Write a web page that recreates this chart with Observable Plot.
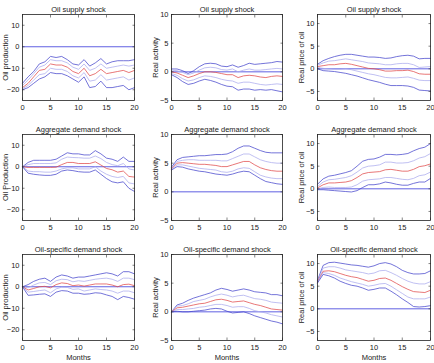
<!DOCTYPE html>
<html>
<head>
<meta charset="utf-8">
<script src="https://cdn.jsdelivr.net/npm/d3@7"></script>
<script src="https://cdn.jsdelivr.net/npm/@observablehq/plot@0.6"></script>
<style>
  html, body { margin: 0; padding: 0; background: #fff; }
  #wrap { position: relative; width: 434px; height: 363px; font-family: "Liberation Sans", Arial, sans-serif; }
  #wrap svg { position: absolute; overflow: visible; }
</style>
</head>
<body>
<div id="wrap"></div>
<script>
const months = [0,1,2,3,4,5,6,7,8,9,10,11,12,13,14,15,16,17,18,19,20];
const shocks = ["Oil supply shock", "Aggregate demand shock", "Oil-specific demand shock"];
const yLabels = [
  ["Oil production", "Real activity", "Real price of oil"],
  ["Oil Production", "Real activity", "Real price of oil"],
  ["Oil production", "Real activity", "Real price of oil"]
];
const yDomains = [[-25, 15], [-5, 10], [-7, 12]];
const yTicks = [[-20, -10, 0, 10], [-5, 0, 5, 10], [-5, 0, 5, 10]];
const xTicks = [0, 5, 10, 15, 20];

// each panel: [upper outer, upper inner, median, lower inner, lower outer]
const supplyProd = [
  [-17,-14,-11.5,-8,-7,-4.5,-5,-4.5,-6,-8,-8.5,-6,-9,-7.5,-5.5,-8,-7,-6.5,-6.5,-6.5,-6],
  [-18,-15.5,-12.5,-9.5,-8.5,-6,-6.5,-6.5,-7.5,-9.5,-10.5,-8,-11,-10,-8,-10,-9.5,-9,-8.5,-9,-8.5],
  [-19,-17,-14,-11,-10.5,-8,-8.5,-8.5,-9.5,-11.5,-12.5,-10,-13.5,-12.5,-10.5,-12.5,-12,-11.5,-11,-12,-11],
  [-19.5,-18,-15.5,-13,-12.5,-10,-10.5,-10.5,-11.5,-13.5,-14.5,-12,-16,-15.5,-13,-15.5,-15,-14.5,-14,-15.5,-14.5],
  [-20,-19,-17,-15,-14,-12,-12.5,-12.5,-13.5,-15,-16.5,-14,-19,-18.5,-16,-19,-19,-18.5,-18,-20,-19]
];
const supplyAct = [
  [0.5,0.5,0.2,-0.3,0.2,0.9,1.4,1.5,1.4,1.0,0.9,1.2,0.8,1.1,1.5,1.3,1.4,1.5,1.6,1.8,1.7],
  [0.3,0.2,-0.1,-0.5,-0.2,0.3,0.7,0.8,0.7,0.4,0.3,0.5,0,0.3,0.5,0.3,0.3,0.4,0.5,0.6,0.5],
  [0,-0.2,-0.6,-1,-0.7,-0.3,0,0,-0.1,-0.3,-0.5,-0.5,-1,-0.7,-0.6,-0.7,-0.9,-1,-0.8,-0.7,-0.8],
  [-0.3,-0.6,-1.2,-1.6,-1.4,-1.0,-0.7,-0.8,-1,-1.3,-1.5,-1.6,-2,-1.8,-1.8,-2,-2.2,-2.3,-2.2,-2.1,-2.2],
  [-0.5,-1,-1.7,-2.2,-2,-1.6,-1.3,-1.5,-1.8,-2.2,-2.5,-2.6,-3.2,-3,-3,-3.2,-3.1,-3.2,-3.1,-3.3,-3.5]
];
const supplyPrice = [
  [1,1.8,2.3,2.7,3.0,3.2,3.2,3.0,2.8,2.6,2.6,2.5,2.3,2.4,2.7,2.9,3.0,2.8,2.2,2.3,2.3],
  [0.8,1.3,1.7,1.8,2.0,2.2,2.0,1.8,1.6,1.3,1.2,1.1,0.9,0.9,1.1,1.2,1.2,0.9,0.3,0.4,0.5],
  [0.5,0.7,0.9,0.9,1.1,1.2,1.0,0.7,0.4,0.1,0,-0.2,-0.5,-0.5,-0.4,-0.4,-0.3,-0.6,-1.1,-1.2,-1.2],
  [0.3,0.1,0,-0.1,-0.1,0,-0.2,-0.5,-0.8,-1.1,-1.3,-1.6,-1.9,-2,-2,-1.9,-1.8,-2.1,-2.5,-2.6,-2.6],
  [0,-0.4,-0.5,-0.6,-0.8,-1,-1.3,-1.6,-2,-2.4,-2.7,-3,-3.4,-3.7,-3.7,-3.7,-3.8,-4.1,-4.7,-4.8,-4.9]
];
const aggProd = [
  [0,2,3,3,3,3,3.5,5,6.5,6,6,5.5,5.5,7.5,6,4,3.5,2.5,4.5,2.5,2.5],
  [0,1,1.5,1.5,1.5,1.5,1.8,3.5,4.5,4.3,4.2,4,4,5,3.8,2,1,0.5,1.5,-1,-1.5],
  [0,-0.3,-0.3,-0.3,-0.3,-0.3,-0.2,1,2,2,1.5,1.5,1.5,2.3,0.8,-0.8,-1.4,-2.5,-2,-4.5,-4.8],
  [0,-2,-2.3,-2.3,-2.5,-2.5,-2,-1,-0.5,-0.5,-1,-1,-1,0,-2,-3.5,-4.5,-5,-4.5,-7.5,-8],
  [0,-3,-3.5,-3.8,-4,-4,-3.5,-2,-1.5,-1.8,-2.3,-2.5,-2.5,-1.5,-3.5,-5.5,-7,-7.5,-7,-10,-11.5]
];
const aggAct = [
  [4.3,5.6,6.0,6.1,6.2,6.3,6.3,6.4,6.5,6.5,6.6,7.0,7.6,8.0,8.0,7.6,7.2,6.9,6.8,6.8,6.8],
  [4.1,5.3,5.5,5.6,5.6,5.5,5.5,5.5,5.5,5.4,5.4,5.8,6.2,6.6,6.6,6.1,5.6,5.3,5.1,5.0,5.0],
  [4,5,5.1,5,4.9,4.8,4.8,4.7,4.6,4.4,4.4,4.7,5,5.3,5.3,4.7,4.2,3.9,3.7,3.6,3.6],
  [3.9,4.7,4.7,4.5,4.3,4.1,4.0,3.9,3.8,3.5,3.4,3.6,4.0,4.2,4.1,3.5,2.9,2.6,2.4,2.3,2.3],
  [3.8,4.4,4.3,4.0,3.8,3.6,3.5,3.3,3.1,3.0,2.9,3.1,3.4,3.6,3.5,2.9,2.3,1.8,1.6,1.4,1.3]
];
const aggPrice = [
  [1.0,2.2,2.8,3.0,3.3,3.6,4.0,5.0,6.1,6.5,6.6,7.0,7.6,7.6,7.5,7.6,7.8,8.4,8.9,9.2,10.0],
  [0.5,1.5,2.0,2.1,2.3,2.5,2.9,3.7,4.6,5.0,5.1,5.3,5.9,5.9,5.7,5.7,5.8,6.2,6.8,7.1,7.8],
  [0.2,0.9,1.3,1.3,1.4,1.5,1.8,2.5,3.3,3.6,3.7,3.8,4.2,4.3,4.1,3.9,3.9,4.3,4.9,5.1,5.5],
  [0,0.3,0.4,0.3,0.3,0.3,0.4,0.9,1.7,2.0,2.1,2.2,2.5,2.5,2.3,2.1,2.0,2.3,2.9,3.1,3.7],
  [-0.2,-0.2,-0.3,-0.4,-0.5,-0.6,-0.7,-0.4,0.3,0.9,0.9,1.1,1.5,1.3,1.0,0.8,0.8,1.2,1.5,1.5,2.3]
];
const specProd = [
  [0,1,2.5,3.5,4,2.5,4.5,5.5,5,4,4.5,4.5,5,5.5,6,6.5,6,5,7,7,6],
  [0,-0.5,0.8,1.8,2,1,2.8,3.5,3.3,2.3,2.8,2.5,3,3.5,3.8,4,3.5,2.5,4,4,3.3],
  [0,-1.5,-0.8,0,0.2,-0.5,1,1.8,1.5,0.5,0.8,0.3,0.8,1.3,1.3,1.3,0.8,0,1,1.2,0.5],
  [0,-2.5,-2.2,-1.8,-1.5,-2.8,-1,-0.2,-0.3,-1.2,-1,-2,-1.5,-1,-1.3,-1.5,-2,-3,-2,-2,-2.8],
  [0,-4,-3.8,-3.5,-3.3,-4.5,-2.5,-1.8,-2,-3,-3,-3.5,-3.3,-2.8,-3,-3.8,-4.5,-6,-4.5,-5,-5.8]
];
const specAct = [
  [0,1.2,1.5,2,2.4,2.7,3,3.3,3.8,4.1,3.9,3.6,3.8,4,3.8,3.5,3.4,3.3,3,3,2.8],
  [0,1,1.1,1.4,1.8,2,2.2,2.6,2.9,3.1,2.9,2.6,2.8,2.9,2.6,2.3,2.2,2,1.7,1.6,1.5],
  [0,0.7,0.8,1,1.2,1.4,1.5,1.8,2.1,2.2,2,1.7,1.8,1.9,1.6,1.3,1.1,0.8,0.5,0.4,0.3],
  [0,0.4,0.4,0.5,0.6,0.8,0.9,1.1,1.3,1.3,1.1,0.8,0.9,0.9,0.6,0.2,0,-0.2,-0.5,-0.7,-0.9],
  [0,0.1,0,0,0.1,0.2,0.3,0.5,0.6,0.5,0.1,-0.2,-0.1,0,-0.3,-0.7,-1,-1.3,-1.6,-1.8,-2.1]
];
const specPrice = [
  [6.3,9.6,10.2,10.3,10.1,9.9,9.7,9.6,9.4,9.2,9.5,10,10.2,9.9,9.3,8.5,8,7.7,7.7,7.8,8.4],
  [6.1,9,9.3,9.3,9,8.6,8.4,8.2,8,7.7,7.9,8.4,8.5,8,7.4,6.7,6.1,5.7,5.5,5.5,6],
  [6,8.3,8.4,8.2,7.8,7.4,7.1,6.9,6.5,6.1,6.3,6.7,6.8,6.3,5.6,4.9,4.3,3.8,3.7,3.6,4.1],
  [5.9,8,7.8,7.4,6.8,6.4,6,5.7,5.4,5,5.2,5.5,5.6,5,4.2,3.4,2.6,2.2,2.2,2.2,2.6],
  [5.7,7.6,7.3,6.8,6.1,5.6,5.2,5,4.6,4.1,4.3,4.6,4.6,3.9,3.1,2.2,1.4,0.5,0.4,0.5,0.7]
];

const panels = [
  [supplyProd, supplyAct, supplyPrice],
  [aggProd, aggAct, aggPrice],
  [specProd, specAct, specPrice]
];

const seriesColors = ["#4646cc", "#ababee", "#e04a4a", "#ababee", "#4646cc"];
const zeroColor = "#6060e2";

const colLeft = [0, 145, 290];
const colMarginLeft = [22, 26, 27];
const colMarginRight = [11, 8, 5];
const colLabelOffset = [20, 19, 19];
const rowTop = [0, 120, 240];

const wrap = document.getElementById("wrap");

for (let r = 0; r < 3; r++) {
  for (let c = 0; c < 3; c++) {
    const data = panels[r][c];
    const last = r === 2;
    const marks = [
      Plot.ruleY([0], {stroke: zeroColor, strokeWidth: 1}),
      ...data.map((s, k) => Plot.line(s, {
        x: (d, i) => months[i],
        y: d => d,
        stroke: seriesColors[k],
        strokeWidth: 0.75
      })),
      Plot.axisX({anchor: "bottom", ticks: xTicks, tickSize: -2.5, tickPadding: 6.5, label: null, stroke: "#333", strokeWidth: 0.6, fill: "#222"}),
      Plot.axisX({anchor: "top", ticks: xTicks, tickSize: -2.5, tickFormat: () => "", label: null, stroke: "#333", strokeWidth: 0.6}),
      Plot.axisY({anchor: "left", ticks: yTicks[c], tickSize: -2.5, tickPadding: 5.5, stroke: "#333", strokeWidth: 0.6, fill: "#222",
                  label: yLabels[r][c], labelAnchor: "center", labelArrow: "none", labelOffset: colLabelOffset[c]}),
      Plot.axisY({anchor: "right", ticks: yTicks[c], tickSize: -2.5, tickFormat: () => "", label: null, stroke: "#333", strokeWidth: 0.6}),
      Plot.frame({stroke: "#222", strokeWidth: 0.8}),
      Plot.text([shocks[r]], {frameAnchor: "top", dy: -8, fontSize: 7.5, fill: "#222"})
    ];
    if (last) {
      marks.push(Plot.text(["Months"], {frameAnchor: "bottom", dy: 19, fontSize: 7.5, fill: "#222"}));
    }
    const chart = Plot.plot({
      width: 145,
      height: last ? 123 : 120,
      marginLeft: colMarginLeft[c],
      marginRight: colMarginRight[c],
      marginTop: 14,
      marginBottom: last ? 23 : 20,
      style: {fontFamily: '"Liberation Sans", Arial, sans-serif', fontSize: "7.5px", color: "#222", background: "transparent"},
      x: {domain: [0, 20]},
      y: {domain: yDomains[c]},
      marks
    });
    chart.style.left = colLeft[c] + "px";
    chart.style.top = rowTop[r] + "px";
    wrap.appendChild(chart);
  }
}
</script>
</body>
</html>
